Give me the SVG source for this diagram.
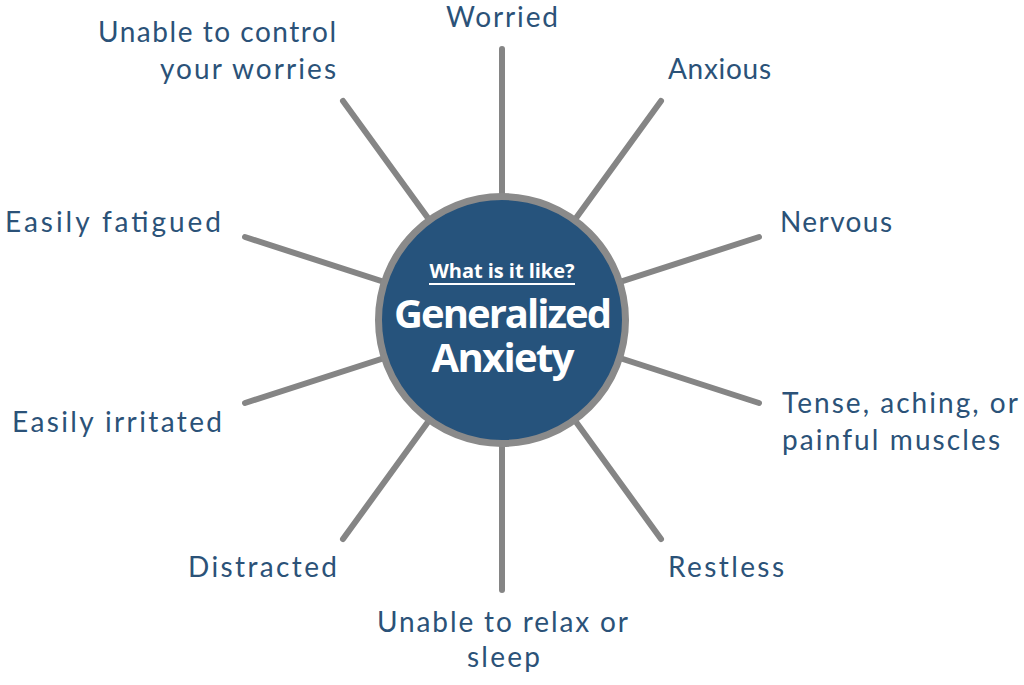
<svg xmlns="http://www.w3.org/2000/svg" width="1024" height="685" viewBox="0 0 1024 685">
<style>
.spoke{stroke:#858585;stroke-width:6;stroke-linecap:round;fill:none}
.lbl{font-family:"Lato","Open Sans","Liberation Sans",sans-serif;font-size:28px;fill:#2b5278}
.ctr{font-family:"Open Sans","Liberation Sans",sans-serif;font-weight:bold;fill:#ffffff;text-anchor:middle}
</style>
<rect width="1024" height="685" fill="#ffffff"/>
<g id="connectors">
<line class="spoke" x1="502" y1="320" x2="502" y2="49"/>
<line class="spoke" x1="502" y1="320" x2="661" y2="101"/>
<line class="spoke" x1="502" y1="320" x2="759" y2="237"/>
<line class="spoke" x1="502" y1="320" x2="759" y2="403"/>
<line class="spoke" x1="502" y1="320" x2="661" y2="539"/>
<line class="spoke" x1="502" y1="320" x2="502" y2="590"/>
<line class="spoke" x1="502" y1="320" x2="343" y2="539"/>
<line class="spoke" x1="502" y1="320" x2="245" y2="403"/>
<line class="spoke" x1="502" y1="320" x2="245" y2="237"/>
<line class="spoke" x1="502" y1="320" x2="343" y2="101"/>
</g>
<g id="center">
<circle cx="502" cy="320" r="123.5" fill="#26537c" stroke="#8a8a8a" stroke-width="7"/>
<text class="ctr" x="502" y="278" font-size="20" textLength="145">What is it like?</text>
<line x1="429" y1="284" x2="575" y2="284" stroke="#ffffff" stroke-width="1.8"/>
<text class="ctr" x="503" y="328" font-size="40" textLength="218">Generalized</text>
<text class="ctr" x="503" y="372" font-size="40" textLength="143">Anxiety</text>
</g>
<g id="worried"><text class="lbl" x="446" y="27" textLength="112">Worried</text></g>
<g id="anxious"><text class="lbl" x="668" y="79" textLength="103">Anxious</text></g>
<g id="nervous"><text class="lbl" x="780" y="232" textLength="112">Nervous</text></g>
<g id="tense"><text class="lbl" x="782" y="413" textLength="236">Tense, aching, or</text><text class="lbl" x="782" y="450" textLength="218">painful muscles</text></g>
<g id="restless"><text class="lbl" x="668" y="577" textLength="116">Restless</text></g>
<g id="relax"><text class="lbl" x="377" y="632" textLength="251">Unable to relax or</text><text class="lbl" x="467" y="667" textLength="73">sleep</text></g>
<g id="distracted"><text class="lbl" x="188" y="577" textLength="149">Distracted</text></g>
<g id="irritated"><text class="lbl" x="12" y="432" textLength="210">Easily irritated</text></g>
<g id="fatigued"><text class="lbl" x="5" y="232" textLength="216">Easily fatigued</text></g>
<g id="control"><text class="lbl" x="98" y="42" textLength="238">Unable to control</text><text class="lbl" x="160" y="79" textLength="176">your worries</text></g>
</svg>
